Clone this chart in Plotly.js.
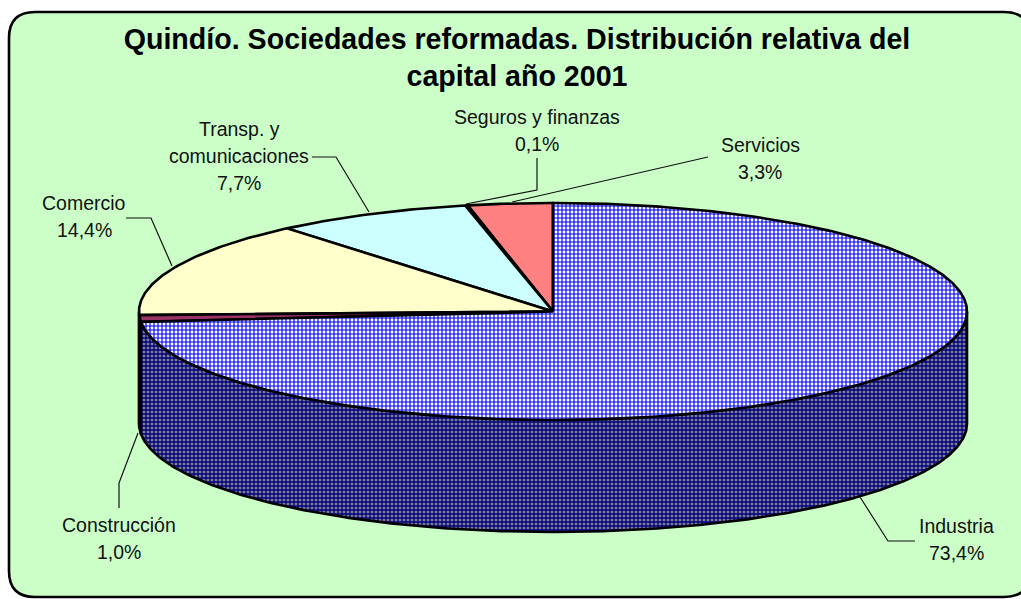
<!DOCTYPE html>
<html>
<head>
<meta charset="utf-8">
<script src="https://cdn.plot.ly/plotly-3.0.1.min.js"></script>
<style>html,body{margin:0;padding:0;background:#fff;overflow:hidden}</style>
</head>
<body>
<div id="chart" style="width:1021px;height:599px"></div>
<script>
// --- chart data (counter-clockwise from the top of the pie) ---
var categories = ['Servicios', 'Seguros y finanzas', 'Transp. y<br>comunicaciones', 'Comercio', 'Construcción', 'Industria'];
var values = [3.3, 0.1, 7.7, 14.4, 1.0, 73.4];
var titleText = 'Quindío. Sociedades reformadas. Distribución relativa del<br>capital año 2001';

// --- styling ---
var topColors = ['#FF8080', '#0066CC', '#CCFFFF', '#FFFFCC', '#993366', null];
var sideColors = ['#804040', '#003366', '#668080', '#808066', '#4C1A33', null];
var labelFont = {family: '"Liberation Sans", Arial, sans-serif', size: 19.5, color: '#111111'};

// --- layout geometry (pixel-scaled axes) ---
var W = 1021, H = 599;
var pie = {cx: 553, cy: 311.5, rx: 414, ry: 108.5, depth: 112};
var labelPos = [[760, 145], [537, 117], [239, 129], [84, 203], [119, 525], [956, 526]];
var lineGap = 27;
var leaders = [
  [[708, 157], [512, 202]],
  [[537, 158], [537, 190], [466, 204]],
  [[312, 157], [336, 157], [369, 212]],
  [[126, 218], [151, 218], [172, 266]],
  [[119, 508], [119, 483], [138, 433]],
  [[860, 497], [888, 541], [915, 541]]
];

function pt(a, dz) {
  return [pie.cx - pie.rx * Math.sin(a), pie.cy - pie.ry * Math.cos(a) + (dz || 0)];
}
function arc(a0, a1, dz) {
  var n = Math.max(2, Math.ceil(Math.abs(a1 - a0) / 0.01)), out = [];
  for (var i = 0; i <= n; i++) out.push(pt(a0 + (a1 - a0) * i / n, dz));
  return out;
}
function polyTrace(points, color, pattern) {
  var t = {
    type: 'scatter', mode: 'lines', fill: 'toself', hoverinfo: 'skip', showlegend: false,
    x: points.map(function (p) { return p[0]; }),
    y: points.map(function (p) { return p[1]; }),
    line: {color: '#000000', width: 2.6, shape: 'linear'}
  };
  if (pattern) { t.fillcolor = pattern.bgcolor; t.fillpattern = pattern; }
  else { t.fillcolor = color; }
  return t;
}

var total = values.reduce(function (s, v) { return s + v; }, 0);
var topPattern = {shape: '+', size: 4, solidity: 0.5, fgcolor: '#0000FF', bgcolor: '#FFFFFF', fillmode: 'replace'};
var sidePattern = {shape: '+', size: 4, solidity: 0.55, fgcolor: '#000080', bgcolor: '#808090', fillmode: 'replace'};

var sides = [], tops = [], cum = 0;
values.forEach(function (v, i) {
  var a0 = 2 * Math.PI * cum / total, a1 = 2 * Math.PI * (cum + v) / total;
  cum += v;
  var s0 = Math.max(a0, Math.PI / 2), s1 = Math.min(a1, 3 * Math.PI / 2);
  if (s1 > s0) {
    var pts = arc(s0, s1, 0).concat(arc(s1, s0, pie.depth));
    pts.push(pts[0]);
    sides.push(polyTrace(pts, sideColors[i], topColors[i] ? null : sidePattern));
  }
  var w = [[pie.cx, pie.cy]].concat(arc(a0, a1, 0));
  w.push([pie.cx, pie.cy]);
  tops.push(polyTrace(w, topColors[i], topColors[i] ? null : topPattern));
});

var leaderTraces = leaders.map(function (l) {
  return {
    type: 'scatter', mode: 'lines', hoverinfo: 'skip', showlegend: false,
    x: l.map(function (p) { return p[0]; }),
    y: l.map(function (p) { return p[1]; }),
    line: {color: '#111111', width: 1.2}
  };
});

var annotations = [];
categories.forEach(function (c, i) {
  var pct = values[i].toFixed(1).replace('.', ',') + '%';
  c.split('<br>').concat([pct]).forEach(function (line, j) {
    annotations.push({
      xref: 'x', yref: 'y', x: labelPos[i][0], y: labelPos[i][1] + j * lineGap,
      text: line, showarrow: false, xanchor: 'center', yanchor: 'middle', font: labelFont
    });
  });
});

var r = 26, L = 9, T = 12, R = 1030, B = 597;
var framePath = 'M' + (L + r) + ',' + T + ' L' + (R - r) + ',' + T + ' Q' + R + ',' + T + ' ' + R + ',' + (T + r) +
  ' L' + R + ',' + (B - r) + ' Q' + R + ',' + B + ' ' + (R - r) + ',' + B +
  ' L' + (L + r) + ',' + B + ' Q' + L + ',' + B + ' ' + L + ',' + (B - r) +
  ' L' + L + ',' + (T + r) + ' Q' + L + ',' + T + ' ' + (L + r) + ',' + T + ' Z';

var layout = {
  width: W, height: H,
  margin: {l: 0, r: 0, t: 0, b: 0},
  paper_bgcolor: '#FFFFFF', plot_bgcolor: 'rgba(0,0,0,0)',
  showlegend: false,
  title: {
    text: titleText,
    font: {family: '"Liberation Sans", Arial, sans-serif', size: 28.6, color: '#000000', weight: 700},
    x: 517 / W, xanchor: 'center', xref: 'paper',
    y: 1 - 49 / H, yanchor: 'top', yref: 'container'
  },
  xaxis: {visible: false, range: [0, W], fixedrange: true},
  yaxis: {visible: false, range: [H, 0], fixedrange: true},
  shapes: [{type: 'path', xref: 'x', yref: 'y', path: framePath, fillcolor: '#CCFFC8', line: {color: '#000000', width: 2.6}, layer: 'below'}],
  annotations: annotations
};

Plotly.newPlot('chart', sides.concat(tops).concat(leaderTraces), layout, {displayModeBar: false, staticPlot: true});
</script>
</body>
</html>
